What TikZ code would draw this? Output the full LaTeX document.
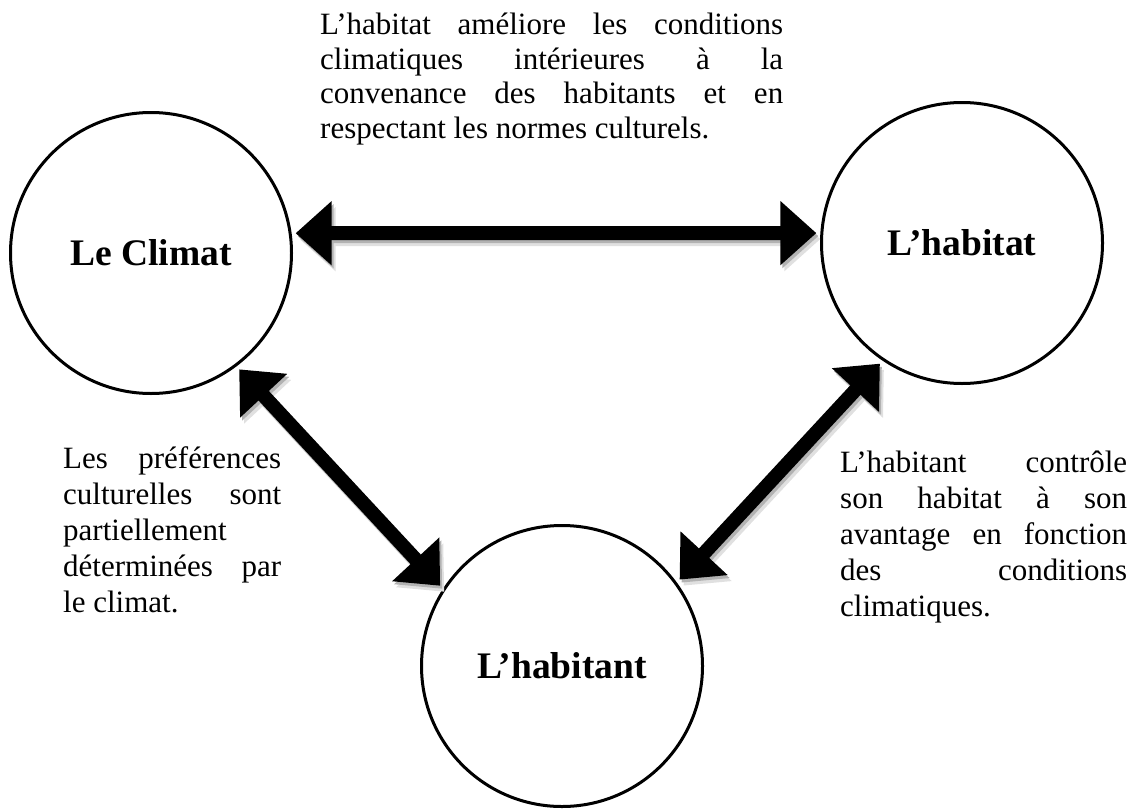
\documentclass[tikz,border=0pt]{standalone}
\usepackage{fontspec}
\setmainfont{Liberation Serif}
\usetikzlibrary{arrows.meta}
\hyphenpenalty=10000
\tolerance=9999

\begin{document}
\begin{tikzpicture}[x=1pt,y=1pt]
    \newcommand{\tipgap}[0]{4pt}
    \tikzstyle{concept}=[
      circle,
      draw=black,
      line width=3pt,
      minimum size=281pt,
      inner sep=0pt,
      font=\bfseries\fontsize{37.5}{40}\selectfont
    ]
    \tikzstyle{note}=[
      anchor=north west,
      inner sep=0pt,
      align=justify,
      font=\fontsize{31}{36}\selectfont
    ]
    \tikzstyle{link}=[
      line width=14pt,
      draw=black,
      {Triangle[width=62pt,length=36pt]}-{Triangle[width=62pt,length=36pt]},
      shorten <=\tipgap,
      shorten >=\tipgap
    ]
    \tikzstyle{link shadow}=[
      link,
      draw=black!30,
      transform canvas={shift={(2pt,-3pt)}}
    ]
    \tikzstyle{link haze}=[
      link,
      draw=black!12,
      transform canvas={shift={(4pt,-6pt)}}
    ]

    \useasboundingbox (0,0) rectangle (1134,-808);

    \node[concept] (climat)    at (151,-253) {Le Climat};
    \node[concept] (habitat)   at (962,-243) {L’habitat};
    \node[concept] (habitant)  at (562,-666) {L’habitant};

    \node[note, text width=463pt, font=\fontsize{31}{34.5}\selectfont] (note top) at (320,-13)
      {L’habitat améliore les conditions\linebreak
       climatiques intérieures à la\linebreak
       convenance des habitants et en\linebreak
       respectant les normes culturels.};
    \node[note, text width=218pt] (note left) at (63,-446)
      {Les préférences\linebreak
       culturelles sont\linebreak
       partiellement\linebreak
       déterminées par\linebreak
       le climat.};
    \node[note, text width=287pt] (note right) at (840,-451)
      {L’habitant contrôle\linebreak
       son habitat à son\linebreak
       avantage en fonction\linebreak
       des conditions\linebreak
       climatiques.};

    % shadows first, arrows on top
    \draw[link haze] (climat.8)--(habitat.176);
    \draw[link haze] (climat.-53)--(habitant.147);
    \draw[link haze] (habitat.-124)--(habitant.36);
    \draw[link shadow] (climat.8)--(habitat.176);
    \draw[link shadow] (climat.-53)--(habitant.147);
    \draw[link shadow] (habitat.-124)--(habitant.36);
    \draw[link] (climat.8)--(habitat.176);
    \draw[link] (climat.-53)--(habitant.147);
    \draw[link] (habitat.-124)--(habitant.36);
  \end{tikzpicture}
\end{document}
